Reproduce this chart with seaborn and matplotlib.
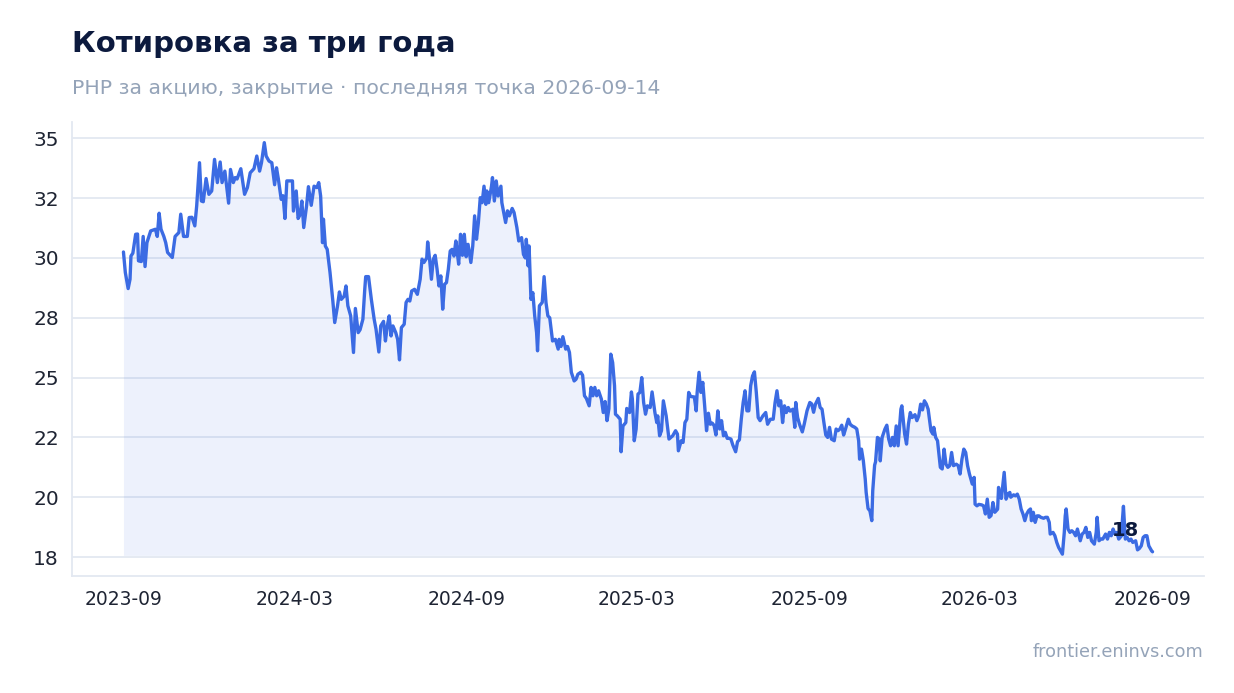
import matplotlib
matplotlib.use("Agg")
import matplotlib.pyplot as plt
import matplotlib.dates as mdates
from matplotlib.ticker import FuncFormatter
import seaborn as sns
import pandas as pd
import numpy as np

# ---------------- data ----------------
START_DATE = "2023-09-14"
LAST_DATE = "2026-09-14"
TITLE = "Котировка за три года"
SUBTITLE = "PHP за акцию, закрытие · последняя точка 2026-09-14"
SOURCE = "frontier.eninvs.com"

# day offset from START_DATE for each observation
day = [
    0, 2, 5, 7, 8, 10, 13, 15, 16, 19, 21, 23, 25, 29, 34, 36, 38, 40, 43, 45,
    47, 52, 55, 59, 61, 64, 68, 70, 73, 76, 78, 81, 83, 85, 88, 91, 94, 97, 100, 103,
    105, 108, 112, 114, 117, 119, 121, 125, 129, 132, 135, 139, 142, 145, 147, 150, 152, 155, 158, 161,
    163, 165, 168, 170, 172, 174, 178, 180, 181, 184, 186, 188, 190, 192, 195, 197, 200, 203, 206, 208,
    210, 212, 213, 215, 217, 220, 223, 225, 228, 230, 232, 235, 237, 239, 242, 245, 247, 250, 252, 255,
    257, 258, 261, 264, 267, 269, 272, 274, 277, 279, 281, 283, 285, 287, 290, 292, 294, 296, 299, 301,
    303, 305, 307, 310, 313, 316, 318, 320, 323, 324, 326, 328, 330, 332, 334, 336, 338, 340, 342, 344,
    346, 348, 350, 352, 354, 355, 357, 359, 361, 363, 365, 367, 370, 372, 374, 376, 378, 380, 382, 384,
    386, 387, 389, 392, 393, 395, 397, 399, 402, 403, 405, 407, 409, 411, 414, 416, 419, 421, 424, 426,
    428, 429, 431, 432, 434, 436, 438, 440, 441, 443, 446, 448, 450, 452, 454, 457, 460, 463,
    464, 466, 468, 471, 473, 475, 477, 480, 482, 484, 487, 489, 491, 493, 496, 498, 500, 502, 504, 506,
    509, 511, 513, 515, 517, 519, 521, 523, 524, 526, 529, 530, 532, 535, 536, 539, 541, 542, 544, 546,
    548, 550, 552, 554, 556, 558, 561, 563, 566, 568, 569, 571, 573, 575, 578, 581, 583, 585, 588, 590,
    591, 594, 596, 598, 600, 602, 604, 606, 608, 610, 611, 613, 615, 617, 619, 621, 623, 625, 627, 629,
    631, 633, 635, 637, 639, 641, 643, 645, 647, 649, 652, 654, 656, 658, 660, 662, 664, 666, 668, 670,
    672, 674, 676, 678,
    681, 684, 686, 689, 692, 694, 696, 698, 700, 702, 704, 706, 708, 710, 713, 715, 716, 718, 720, 723,
    725, 728, 731, 733, 735, 737, 740, 742, 744, 746, 748, 750, 752, 754, 757, 759, 761, 763, 765, 767,
    769, 772, 774, 776, 779, 781, 783, 784, 786, 788, 790, 791, 793, 795, 797, 798, 800, 801, 803, 805,
    806, 808, 811, 813, 815, 817, 819, 821, 823, 825, 828, 829, 832, 834, 836, 838, 840, 843, 845, 847,
    849, 851, 853, 855, 857, 860, 862, 863, 865, 867, 870, 872, 874, 876, 878, 880, 882, 884, 887, 889,
    891, 893, 895, 897, 899, 901, 904, 906, 907, 909, 911, 914, 916, 918, 920, 922, 924, 926, 928, 931,
    932, 933, 935, 938, 940, 942, 944, 945, 948, 950, 952, 954, 956, 958, 960, 962, 964, 966, 967, 969,
    971, 973, 975, 977, 980, 982, 984, 986, 987, 990, 992, 994, 996, 998, 1000, 1002, 1003, 1004, 1006, 1008,
    1010, 1012, 1014, 1016, 1019, 1021, 1023, 1025, 1027, 1029, 1031, 1034, 1036, 1037, 1039, 1041, 1043, 1046, 1048, 1050,
    1052, 1054, 1056, 1058, 1060, 1063, 1064, 1065, 1067, 1069, 1071, 1073, 1075, 1078, 1080, 1082, 1084, 1086, 1088, 1090,
    1092, 1095, 1096,
]

price = [
    30.25, 29.39, 28.72, 29.11, 30.08, 30.20, 30.99, 31.00, 29.88, 29.85, 30.90, 29.64, 30.64, 31.13, 31.20, 30.90, 31.87, 31.20, 30.90, 30.64,
    30.23, 30.02, 30.90, 31.06, 31.83, 30.90, 30.90, 31.69, 31.70, 31.34, 32.18, 33.98, 32.38, 32.35, 33.32, 32.66, 32.80, 34.12, 33.15, 34.01,
    33.15, 33.63, 32.29, 33.70, 33.15, 33.36, 33.30, 33.73, 32.66, 32.94, 33.56, 33.73, 34.26, 33.63, 33.98, 34.82, 34.26, 34.05, 33.98, 33.06,
    33.77, 33.29, 32.45, 32.60, 31.65, 33.22, 33.22, 33.22, 31.96, 32.80, 31.65, 31.80, 32.38, 31.27, 32.17, 32.98, 32.20, 33.00, 32.94, 33.15,
    32.59, 30.64, 31.62, 30.50, 30.36, 29.39, 28.20, 27.30, 28.00, 28.58, 28.27, 28.40, 28.83, 28.00, 27.58, 26.05, 27.89, 26.88, 27.00, 27.44,
    28.69, 29.22, 29.22, 28.27, 27.44, 27.02, 26.07, 27.16, 27.35, 26.53, 27.16, 27.58, 26.74, 27.16, 26.88, 26.60, 25.74, 27.09, 27.23, 28.14,
    28.27, 28.20, 28.62, 28.69, 28.48, 29.11, 29.95, 29.81, 30.00, 30.67, 29.95, 29.11, 29.95, 30.11, 29.53, 28.83, 29.25, 27.86, 28.90, 28.97,
    29.53, 30.29, 30.36, 30.08, 30.71, 30.40, 29.74, 30.99, 30.11, 30.99, 30.05, 30.57, 29.81, 30.50, 31.76, 30.78, 31.48, 32.52, 32.31, 33.00,
    32.24, 32.80, 32.31, 33.00, 33.36, 32.38, 33.22, 32.59, 33.00, 32.31, 31.90, 31.48, 31.97, 31.76, 32.07, 31.90, 31.27, 30.71, 30.85, 30.15,
    30.00, 30.78, 29.67, 30.50, 28.27, 28.55, 27.58, 26.88, 26.12, 28.00, 28.14, 29.22, 28.14, 27.58, 27.50, 26.53, 26.60, 26.19,
    26.60, 26.30, 26.71, 26.19, 26.30, 26.05, 25.22, 24.86, 24.93, 25.14, 25.22, 25.10, 24.24, 24.13, 23.82, 24.59, 24.24, 24.59, 24.24, 24.45,
    24.10, 23.54, 24.00, 23.20, 23.70, 25.98, 25.63, 24.66, 23.47, 23.40, 23.26, 21.90, 22.98, 23.12, 23.71, 23.54, 24.40, 24.10, 22.36, 22.85,
    24.31, 24.38, 25.00, 23.96, 23.47, 23.82, 23.75, 24.40, 23.54, 23.12, 23.40, 22.57, 22.78, 24.03, 23.40, 22.43, 22.50, 22.57, 22.78, 22.64,
    21.94, 22.36, 22.29, 23.12, 23.26, 24.38, 24.21, 24.20, 24.19, 23.61, 24.38, 25.22, 24.38, 24.80, 23.82, 22.78, 23.51, 23.05, 23.10, 23.00,
    22.60, 23.61, 22.85, 23.20, 22.57, 22.71, 22.46, 22.46, 22.43, 22.18, 21.90, 22.32, 22.40, 23.26, 23.96, 24.45, 23.61, 23.61, 24.66, 25.07,
    25.24, 24.38, 23.33, 23.20,
    23.40, 23.54, 23.05, 23.26, 23.26, 23.96, 24.45, 23.82, 24.03, 23.12, 23.82, 23.54, 23.75, 23.60, 23.68, 22.92, 23.96, 23.33, 23.05, 22.73,
    23.05, 23.61, 23.96, 23.90, 23.55, 23.89, 24.13, 23.75, 23.68, 23.12, 22.60, 22.50, 22.92, 22.43, 22.36, 22.85, 22.78, 22.85, 23.01, 22.60,
    22.85, 23.26, 23.05, 22.98, 22.92, 22.85, 22.36, 21.59, 22.01, 21.52, 20.76, 20.20, 19.53, 19.43, 19.02, 20.27, 21.34, 21.48, 22.50, 22.43,
    21.52, 22.50, 22.85, 23.01, 22.43, 22.15, 22.50, 22.15, 22.98, 22.15, 23.68, 23.82, 22.64, 22.22, 23.05, 23.54, 23.33, 23.45, 23.20, 23.40,
    23.89, 23.65, 24.03, 23.90, 23.68, 22.78, 22.64, 22.92, 22.50, 22.36, 21.25, 21.18, 22.01, 21.38, 21.25, 21.32, 21.87, 21.32, 21.38, 21.32,
    20.97, 21.59, 22.01, 21.87, 21.32, 20.97, 20.55, 20.83, 19.71, 19.64, 19.70, 19.68, 19.64, 19.30, 19.92, 19.16, 19.23, 19.78, 19.37, 19.50,
    20.41, 20.06, 19.95, 21.04, 19.92, 20.13, 20.20, 20.00, 20.10, 20.06, 20.13, 19.92, 19.51, 19.30, 19.02, 19.30, 19.44, 19.51, 19.02, 19.37,
    18.95, 19.22, 19.22, 19.16, 19.12, 19.16, 19.16, 18.95, 18.46, 18.53, 18.39, 18.11, 17.90, 17.76, 17.62, 18.53, 19.22, 19.51, 18.67, 18.53,
    18.60, 18.53, 18.39, 18.67, 18.18, 18.46, 18.53, 18.74, 18.32, 18.53, 18.18, 18.04, 18.53, 19.16, 18.18, 18.25, 18.25, 18.46, 18.25, 18.53,
    18.39, 18.67, 18.46, 18.53, 18.25, 18.39, 19.09, 19.62, 18.25, 18.32, 18.18, 18.25, 18.11, 18.18, 17.80, 17.86, 17.97, 18.32, 18.39, 18.39,
    17.97, 17.76, 17.72,
]

# ---------------- styling ----------------
LINE_COLOR = "#3b6be3"
TITLE_COLOR = "#0c1a3e"
MUTED = "#94a3b8"
GRID = "#e3e8f1"
TICK_TEXT = "#1e2433"

sns.set_theme(style="white")
plt.rcParams["font.family"] = ["DejaVu Sans"]

df = pd.DataFrame({
    "date": pd.Timestamp(START_DATE) + pd.to_timedelta(day, unit="D"),
    "price": price,
})

fig = plt.figure(figsize=(12.34, 6.93), dpi=100)
ax = fig.add_axes([72 / 1234, 1 - 576 / 693, (1204 - 72) / 1234, (576 - 122) / 693])

base = df["price"].min() - 0.05
ax.fill_between(df["date"], df["price"], base, color=LINE_COLOR, alpha=0.09, linewidth=0)
sns.lineplot(data=df, x="date", y="price", ax=ax, color=LINE_COLOR, linewidth=2.4)

ax.margins(x=0.05, y=0.05)
ax.set_xlabel("")
ax.set_ylabel("")

# y ticks every 2.5 formatted without decimals
ax.set_yticks(np.arange(17.5, 35.01, 2.5))
ax.yaxis.set_major_formatter(FuncFormatter(lambda v, p: f"{v:.0f}"))
ax.grid(axis="y", color=GRID, linewidth=1.3)
ax.grid(axis="x", visible=False)
ax.set_axisbelow(True)

xt = pd.date_range(START_DATE, periods=7, freq=pd.DateOffset(months=6))
ax.set_xticks(xt)
ax.xaxis.set_major_formatter(mdates.DateFormatter("%Y-%m"))

ax.tick_params(axis="y", labelsize=14.5, colors="#333a48", labelcolor=TICK_TEXT, length=4, width=1.4, pad=5.5)
ax.tick_params(axis="x", labelsize=13.5, colors="#333a48", labelcolor=TICK_TEXT, length=4, width=1.4, pad=6)

for s in ["top", "right"]:
    ax.spines[s].set_visible(False)
for s in ["left", "bottom"]:
    ax.spines[s].set_color(GRID)
    ax.spines[s].set_linewidth(1.3)

last_val = df["price"].iloc[-1]
ax.annotate(f"{last_val:.0f}", xy=(df["date"].iloc[-1], last_val), xytext=(-10, 11),
            textcoords="offset points", ha="right", va="baseline",
            fontsize=14, fontweight="bold", color=TITLE_COLOR)

fig.text(72 / 1234, 1 - 44 / 693, TITLE, fontsize=21, fontweight="bold", color=TITLE_COLOR,
         ha="left", va="center")
fig.text(72 / 1234, 1 - 88 / 693, SUBTITLE, fontsize=14.7, color=MUTED, ha="left", va="center")
fig.text(1203 / 1234, 1 - 652 / 693, SOURCE, fontsize=12.7, color=MUTED, ha="right", va="center")

fig.savefig("out.png", dpi=100)
